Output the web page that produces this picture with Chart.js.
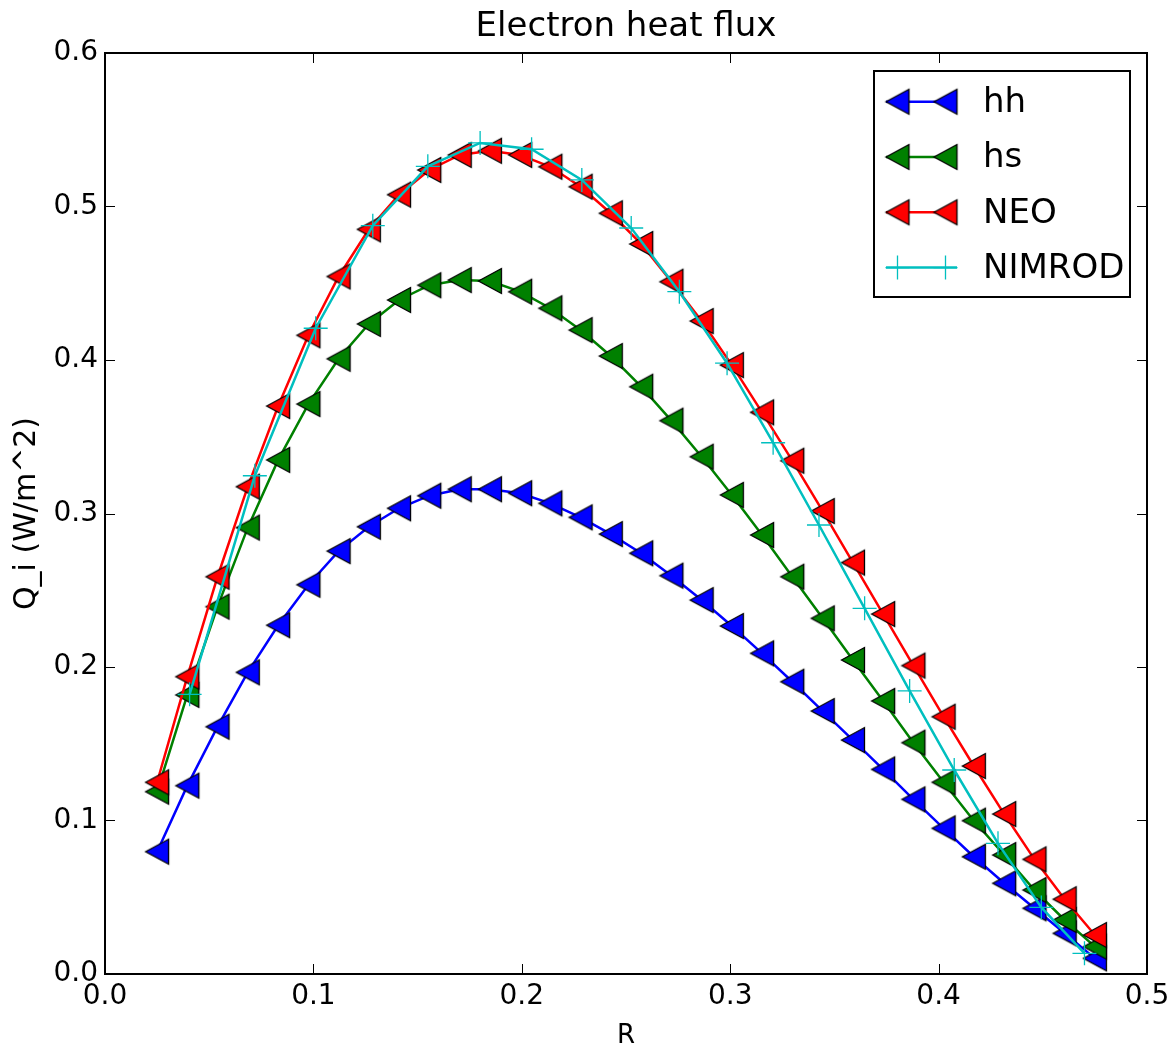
<!DOCTYPE html>
<html>
<head>
<meta charset="utf-8">
<title>Electron heat flux</title>
<script src="https://cdn.jsdelivr.net/npm/chart.js@4/dist/chart.umd.min.js"></script>
<style>
  html, body { margin: 0; padding: 0; background: #fff; }
  #wrap { width: 1176px; height: 1054px; }
</style>
</head>
<body>
<div id="wrap"><canvas id="graph1" width="1176" height="1054"></canvas></div>
<script>
// valori
var rGrid = [0.0250, 0.0395, 0.0540, 0.0685, 0.0831, 0.0976, 0.1121, 0.1266,
	0.1411, 0.1556, 0.1702, 0.1847, 0.1992, 0.2137, 0.2282, 0.2427,
	0.2573, 0.2718, 0.2863, 0.3008, 0.3153, 0.3298, 0.3444, 0.3589,
	0.3734, 0.3879, 0.4024, 0.4169, 0.4315, 0.4460, 0.4605, 0.4750];

var hhValues = [0.0797, 0.1227, 0.1611, 0.1965, 0.2272, 0.2536, 0.2755, 0.2914,
	0.3034, 0.3116, 0.3158, 0.3158, 0.3132, 0.3066, 0.2975, 0.2866,
	0.2741, 0.2595, 0.2436, 0.2267, 0.2089, 0.1904, 0.1713, 0.1524,
	0.1333, 0.1138, 0.0949, 0.0764, 0.0591, 0.0428, 0.0265, 0.0102];

var hsValues = [0.1188, 0.1818, 0.2393, 0.2908, 0.3349, 0.3713, 0.4008, 0.4235,
	0.4391, 0.4487, 0.4521, 0.4515, 0.4445, 0.4337, 0.4195, 0.4026,
	0.3826, 0.3605, 0.3370, 0.3121, 0.2860, 0.2588, 0.2317, 0.2046,
	0.1779, 0.1507, 0.1249, 0.0999, 0.0775, 0.0547, 0.0352, 0.0178];

var neoValues = [0.1249, 0.1937, 0.2588, 0.3175, 0.3700, 0.4161, 0.4544, 0.4851,
	0.5077, 0.5238, 0.5336, 0.5363, 0.5336, 0.5259, 0.5129, 0.4956,
	0.4756, 0.4510, 0.4254, 0.3967, 0.3659, 0.3344, 0.3016, 0.2680,
	0.2345, 0.2009, 0.1676, 0.1355, 0.1042, 0.0747, 0.0487, 0.0254];

var nimrodR = [0.0406, 0.0719, 0.1011, 0.1285, 0.1549, 0.1800, 0.2047, 0.2288,
	0.2525, 0.2756, 0.2985, 0.3206, 0.3426, 0.3645, 0.3861, 0.4075,
	0.4285, 0.4493, 0.4700];
var nimrodValues = [0.1822, 0.3246, 0.4207, 0.4875, 0.5262, 0.5414, 0.5373, 0.5173,
	0.4860, 0.4445, 0.3979, 0.3461, 0.2925, 0.2382, 0.1844, 0.1329,
	0.0851, 0.0434, 0.0135];

var seriesNames = ["hh", "hs", "NEO", "NIMROD"];

var xTicks = [0.0, 0.1, 0.2, 0.3, 0.4, 0.5];
var xTickLabels = ["0.0", "0.1", "0.2", "0.3", "0.4", "0.5"];
var yTicks = [0.0, 0.1, 0.2, 0.3, 0.4, 0.5, 0.6];
var yTickLabels = ["0.0", "0.1", "0.2", "0.3", "0.4", "0.5", "0.6"];

var FONT = "'DejaVu Sans', 'Liberation Sans', sans-serif";


function toPoints(xs, ys) {
	var pts = [];
	for (var i = 0; i < xs.length; i++) {
		pts.push({x: xs[i], y: ys[i]});
	}
	return pts;
}


// marker triangolo verso sinistra, come '<' di matplotlib
function makeTriangle(color) {
	var c = document.createElement("canvas");
	c.width = 30;
	c.height = 30;
	var g = c.getContext("2d");
	g.beginPath();
	g.moveTo(15 - 11.5, 15);
	g.lineTo(15 + 11.5, 15 - 12.5);
	g.lineTo(15 + 11.5, 15 + 12.5);
	g.closePath();
	g.fillStyle = color;
	g.fill();
	g.lineWidth = 1.3;
	g.strokeStyle = "#000";
	g.stroke();
	return c;
}


function lineDataset(label, xs, ys, color, order) {
	return {
		label: label,
		data: toPoints(xs, ys),
		borderColor: color,
		borderWidth: 2.5,
		pointStyle: makeTriangle(color),
		pointRadius: 12,
		fill: false,
		tension: 0,
		order: order
	};
}


// cornice e tacche interne su tutti e quattro i lati
var framePlugin = {
	id: "frame",
	afterDatasetsDraw: function(chart) {
		var ctx = chart.ctx;
		var a = chart.chartArea;
		var sx = chart.scales.x;
		var sy = chart.scales.y;
		ctx.save();
		ctx.strokeStyle = "#000";
		ctx.lineWidth = 1;
		ctx.beginPath();
		xTicks.forEach(function(v) {
			var px = Math.round(sx.getPixelForValue(v)) + 0.5;
			ctx.moveTo(px, a.bottom); ctx.lineTo(px, a.bottom - 10);
			ctx.moveTo(px, a.top); ctx.lineTo(px, a.top + 10);
		});
		yTicks.forEach(function(v) {
			var py = Math.round(sy.getPixelForValue(v)) + 0.5;
			ctx.moveTo(a.left, py); ctx.lineTo(a.left + 10, py);
			ctx.moveTo(a.right, py); ctx.lineTo(a.right - 10, py);
		});
		ctx.stroke();
		ctx.lineWidth = 2;
		ctx.strokeRect(a.left, a.top, a.right - a.left, a.bottom - a.top);
		ctx.restore();
	}
};


// legenda dentro l'area del grafico, in alto a destra
var legendPlugin = {
	id: "insideLegend",
	afterDraw: function(chart) {
		var ctx = chart.ctx;
		var a = chart.chartArea;
		var boxW = 256, boxH = 226;
		var left = a.right - 17 - boxW;
		var top = a.top + 18;
		ctx.save();
		ctx.fillStyle = "#fff";
		ctx.fillRect(left, top, boxW, boxH);
		ctx.lineWidth = 2;
		ctx.strokeStyle = "#000";
		ctx.strokeRect(left, top, boxW, boxH);

		chart.data.datasets.forEach(function(ds, i) {
			var y = top + 30.7 + i * 55.3;
			var x1 = left + 12, x2 = left + 83;
			ctx.strokeStyle = ds.borderColor;
			ctx.lineWidth = ds.borderWidth;
			ctx.beginPath();
			ctx.moveTo(x1, y);
			ctx.lineTo(x2, y);
			ctx.stroke();
			[left + 23.5, left + 71.5].forEach(function(mx) {
				if (typeof ds.pointStyle === "object") {
					ctx.drawImage(ds.pointStyle, mx - 15, y - 15);
				} else {
					ctx.lineWidth = ds.pointBorderWidth;
					ctx.beginPath();
					ctx.moveTo(mx - 12, y); ctx.lineTo(mx + 12, y);
					ctx.moveTo(mx, y - 12); ctx.lineTo(mx, y + 12);
					ctx.stroke();
				}
			});
			ctx.fillStyle = "#000";
			ctx.font = "34px " + FONT;
			ctx.textBaseline = "middle";
			ctx.textAlign = "left";
			ctx.fillText(ds.label, left + 109, y + 1.5);
		});
		ctx.restore();
	}
};


function drawGraph(graphID) {
	var datasets = [
		lineDataset(seriesNames[0], rGrid, hhValues, "#0000ff", 4),
		lineDataset(seriesNames[1], rGrid, hsValues, "#008000", 3),
		lineDataset(seriesNames[2], rGrid, neoValues, "#ff0000", 2),
		{
			label: seriesNames[3],
			data: toPoints(nimrodR, nimrodValues),
			borderColor: "#00bfbf",
			borderWidth: 2.5,
			pointStyle: "cross",
			pointRadius: 12,
			pointBorderColor: "#00bfbf",
			pointBorderWidth: 1.3,
			fill: false,
			tension: 0,
			order: 1
		}
	];

	var ctx = document.getElementById(graphID).getContext("2d");

	var chart = new Chart(ctx, {
		type: "line",
		data: { datasets: datasets },
		plugins: [framePlugin, legendPlugin],
		options: {
			responsive: false,
			devicePixelRatio: 1,
			animation: false,
			events: [],
			layout: { padding: { left: 0, right: 29, top: 0, bottom: 0 } },
			plugins: {
				legend: { display: false },
				tooltip: { enabled: false },
				title: {
					display: true,
					fullSize: false,
					text: "Electron heat flux",
					color: "#000",
					font: { family: FONT, size: 34, weight: "normal", lineHeight: 1.2 },
					padding: { top: 7, bottom: 5.2 }
				}
			},
			scales: {
				x: {
					type: "linear",
					min: 0,
					max: 0.5,
					afterBuildTicks: function(s) {
						s.ticks = xTicks.map(function(v) { return {value: v}; });
					},
					afterFit: function(s) {
						s.height = 80;
						s.paddingLeft = 0;
						s.paddingRight = 0;
					},
					grid: { display: false, drawTicks: false },
					border: { display: false },
					ticks: {
						color: "#000",
						padding: 6,
						maxRotation: 0,
						font: { family: FONT, size: 28 },
						callback: function(v) {
							var i = xTicks.indexOf(Math.round(v * 10) / 10);
							return i >= 0 ? xTickLabels[i] : "";
						}
					},
					title: {
						display: true,
						text: "R",
						color: "#000",
						font: { family: FONT, size: 26, lineHeight: 1.2 },
						padding: { top: 0, bottom: 2.4 }
					}
				},
				y: {
					type: "linear",
					min: 0,
					max: 0.6,
					afterBuildTicks: function(s) {
						s.ticks = yTicks.map(function(v) { return {value: v}; });
					},
					afterFit: function(s) {
						s.width = 105;
						s.paddingTop = 0;
						s.paddingBottom = 0;
					},
					grid: { display: false, drawTicks: false },
					border: { display: false },
					ticks: {
						color: "#000",
						padding: 7,
						font: { family: FONT, size: 28 },
						callback: function(v) {
							var i = yTicks.indexOf(Math.round(v * 10) / 10);
							return i >= 0 ? yTickLabels[i] : "";
						}
					},
					title: {
						display: true,
						text: "Q_i (W/m^2)",
						color: "#000",
						font: { family: FONT, size: 30, lineHeight: 1.2 },
						padding: { top: 9, bottom: 0 }
					}
				}
			}
		}
	});
	return chart;
}

drawGraph("graph1");
</script>
</body>
</html>
